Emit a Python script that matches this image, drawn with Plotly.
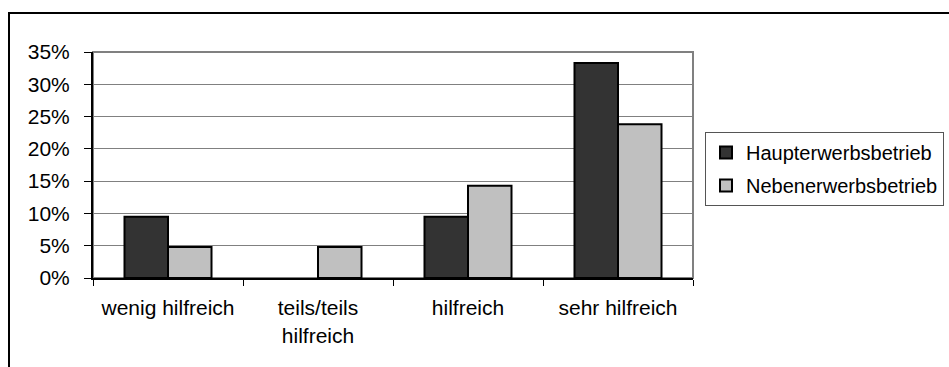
import plotly.graph_objects as go

# Survey result: share of farms rating the measure, by farm type (percent)
categories = ["wenig hilfreich", "teils/teils<br>hilfreich", "hilfreich", "sehr hilfreich"]
haupterwerb = [9.5, 0.0, 9.5, 33.3]
nebenerwerb = [4.8, 4.8, 14.3, 23.8]
series_names = ["Haupterwerbsbetrieb", "Nebenerwerbsbetrieb"]
y_ticks = [0, 5, 10, 15, 20, 25, 30, 35]
y_tick_labels = ["0%", "5%", "10%", "15%", "20%", "25%", "30%", "35%"]

FONT = "Liberation Sans, Arial, sans-serif"
W, H = 949, 367
ML, MR, MT, MB = 93, 256, 52, 89
PW, PH = W - ML - MR, H - MT - MB


def px_x(x):
    return (x - ML) / PW


def px_y(y):
    return (H - MB - y) / PH


def outline_widths(values):
    # empty bars get no outline
    return [2 if v > 0 else 0 for v in values]


fig = go.Figure()
fig.add_trace(go.Bar(
    x=categories, y=haupterwerb, name=series_names[0], legendgroup="a",
    marker=dict(color="#333333",
                line=dict(color="#000000", width=outline_widths(haupterwerb))),
))
fig.add_trace(go.Bar(
    x=categories, y=nebenerwerb, name=series_names[1], legendgroup="b",
    marker=dict(color="#c0c0c0",
                line=dict(color="#000000", width=outline_widths(nebenerwerb))),
))

fig.update_layout(
    width=W, height=H,
    margin=dict(l=ML, r=MR, t=MT, b=MB, pad=0, autoexpand=False),
    paper_bgcolor="white", plot_bgcolor="white",
    font=dict(family=FONT, size=21, color="#000000"),
    barmode="group", bargap=0.42, bargroupgap=0,
    legend=dict(
        x=px_x(705), y=px_y(132), xanchor="left", yanchor="top",
        bordercolor="#555555", borderwidth=1, bgcolor="white",
        font=dict(family=FONT, size=20, color="#000000"),
        traceorder="grouped", tracegroupgap=4, itemwidth=30,
    ),
    shapes=[
        # plot area frame (grey)
        dict(type="rect", xref="paper", yref="paper", x0=0, x1=1, y0=0, y1=1,
             line=dict(color="#808080", width=2), layer="below"),
        # outer chart frame
        dict(type="rect", xref="paper", yref="paper",
             x0=px_x(9), x1=px_x(960), y0=px_y(380), y1=px_y(13),
             line=dict(color="#000000", width=2), layer="below"),
    ],
)

fig.update_xaxes(
    type="category", showgrid=False, showline=True, linecolor="#000000", linewidth=2,
    ticks="outside", tickson="boundaries", ticklen=6, tickcolor="#000000", tickwidth=1,
    tickfont=dict(family=FONT, size=21, color="#000000"), ticklabelstandoff=10,
    automargin=False,
)
fig.update_yaxes(
    range=[0, 35], tickmode="array", tickvals=y_ticks, ticktext=y_tick_labels,
    showgrid=True, gridcolor="#808080", gridwidth=1,
    showline=True, linecolor="#000000", linewidth=2,
    ticks="outside", ticklen=7, tickcolor="#000000", tickwidth=1,
    tickfont=dict(family=FONT, size=21, color="#000000"), ticklabelstandoff=10,
    zeroline=False, automargin=False,
)

fig.write_html("out.html")
